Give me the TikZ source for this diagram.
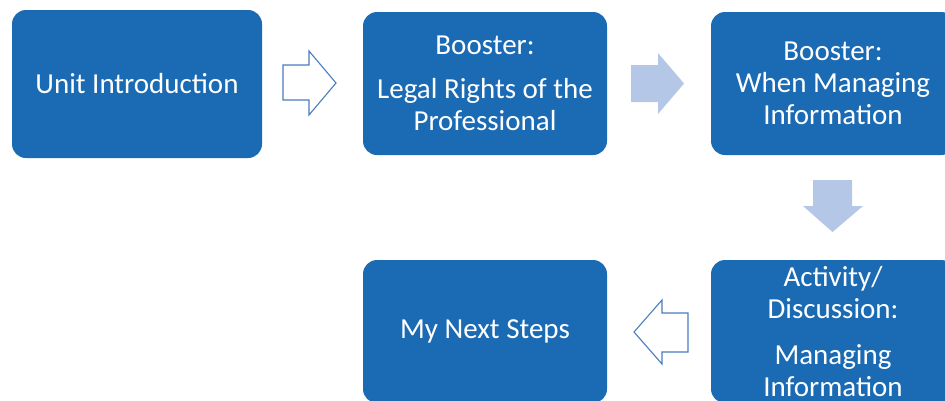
\documentclass[tikz,border=0pt]{standalone}
\usepackage{fontspec}
\setmainfont{Carlito}
\definecolor{boxblue}{RGB}{27,106,180}
\definecolor{lightarrow}{RGB}{180,199,231}
\definecolor{outlinearrow}{RGB}{72,125,190}
\begin{document}
\begin{tikzpicture}[x=1pt,y=-1pt,
  stepbox/.style={fill=boxblue, draw=none, rounded corners=14pt, text=white,
    align=center, inner sep=0pt, font=\fontsize{29}{32}\selectfont},
  filledarrow/.style={fill=lightarrow, draw=none},
  hollowarrow/.style={fill=white, draw=outlinearrow, line width=1.1pt, line join=miter}]
\useasboundingbox (0,0) rectangle (945,400);
\clip (0,0) rectangle (945,400);
\node[stepbox, minimum width=250pt, minimum height=148pt] (b1) at (137,84) {Unit Introduction};
\node[stepbox, minimum width=244pt, minimum height=143pt] (b2) at (485,83.5) {Booster:\\[12pt]Legal Rights of the\\Professional};
\node[stepbox, minimum width=244pt, minimum height=143pt] (b3) at (833,83.5) {Booster:\\When Managing\\Information};
\node[stepbox, minimum width=244pt, minimum height=143pt] (b4) at (485,331.5) {My Next Steps};
\node[stepbox, minimum width=244pt, minimum height=143pt] (b5) at (833,331.5) {Activity/\\Discussion:\\[14pt]Managing\\Information};
% arrow 1 (outline, right)
\draw[hollowarrow] (283,65) -- (309,65) -- (309,51) -- (336,83) -- (309,115) -- (309,100) -- (283,100) -- cycle;
% arrow 2 (filled, right)
\fill[filledarrow] (631,65) -- (658,65) -- (658,53) -- (684,83.5) -- (658,114) -- (658,102) -- (631,102) -- cycle;
% arrow 3 (filled, down)
\fill[filledarrow] (813,180) -- (852,180) -- (852,206) -- (863,206) -- (832.5,232) -- (803,206) -- (813,206) -- cycle;
% arrow 4 (outline, left)
\draw[hollowarrow] (688,313) -- (662,313) -- (662,300) -- (634,332) -- (662,364) -- (662,352) -- (688,352) -- cycle;
\end{tikzpicture}
\end{document}
